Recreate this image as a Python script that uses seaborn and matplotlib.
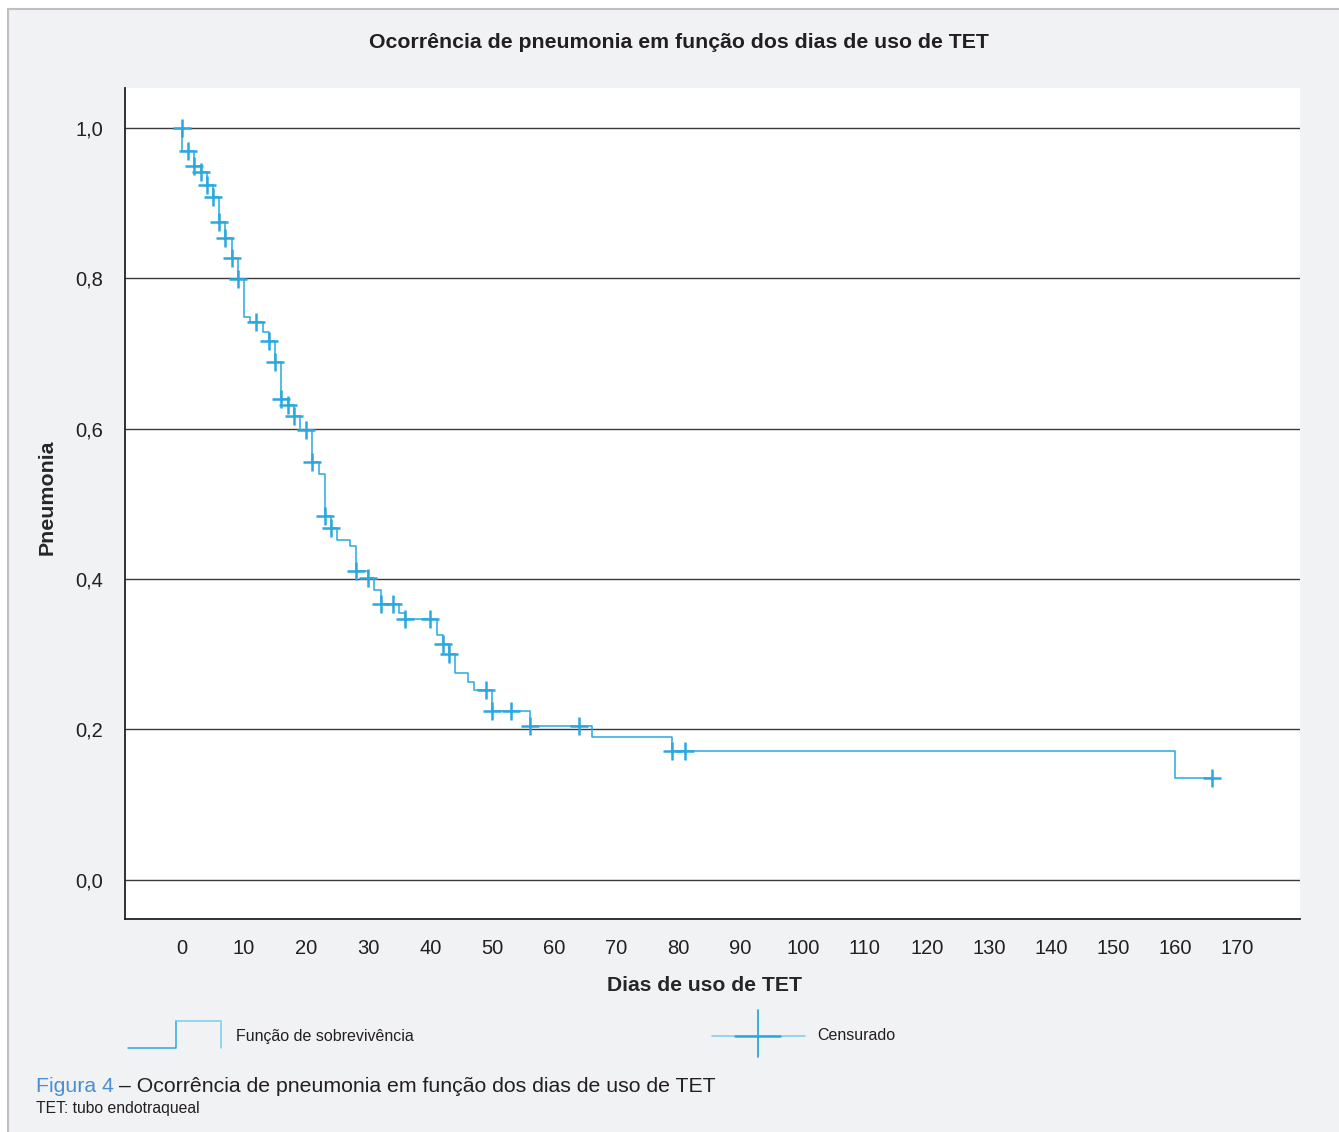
import matplotlib
matplotlib.use("Agg")
import matplotlib.pyplot as plt
import seaborn as sns
import pandas as pd
from matplotlib.lines import Line2D
from matplotlib.patches import Rectangle

# Kaplan-Meier steps (day of event, survival after it)
STEP_DAYS = [0, 2, 3, 4, 5, 6, 7, 8, 9, 10, 11, 13, 14, 15, 16, 17, 18, 19,
             21, 22, 23, 24, 25, 27, 28, 30, 31, 32, 35, 36, 41, 42, 43, 44,
             46, 47, 50, 56, 66, 79, 160]
STEP_SURV = [0.969, 0.949, 0.941, 0.924, 0.908, 0.875, 0.853, 0.827, 0.799,
             0.749, 0.742, 0.728, 0.716, 0.689, 0.640, 0.631, 0.617, 0.598,
             0.556, 0.540, 0.484, 0.468, 0.452, 0.444, 0.411, 0.402, 0.386,
             0.367, 0.355, 0.347, 0.325, 0.314, 0.301, 0.275, 0.263, 0.252,
             0.225, 0.204, 0.190, 0.171, 0.136]
LAST_DAY = 166

# censored observations
CENSOR_DAYS = [0, 1, 2, 3, 4, 5, 6, 7, 8, 9, 12, 14, 15, 16, 17, 18, 20, 21,
               23, 24, 28, 30, 32, 34, 36, 40, 42, 43, 49, 50, 53, 56, 64, 79,
               81, 166]
CENSOR_SURV = [1.0, 0.969, 0.949, 0.941, 0.924, 0.908, 0.875, 0.853, 0.827,
               0.799, 0.742, 0.716, 0.689, 0.640, 0.631, 0.617, 0.598, 0.556,
               0.484, 0.468, 0.411, 0.402, 0.367, 0.367, 0.347, 0.347, 0.314,
               0.301, 0.252, 0.225, 0.225, 0.204, 0.204, 0.171, 0.171, 0.136]

X_TICKS = list(range(0, 171, 10))
Y_TICKS = [0.0, 0.2, 0.4, 0.6, 0.8, 1.0]
Y_LABELS = ["0,0", "0,2", "0,4", "0,6", "0,8", "1,0"]

BLUE = "#2AA8E0"
LIGHT_BLUE = "#7CCBEE"
TEXT = "#231F20"
BG = "#F1F2F4"
W, H = 1339, 1132


def fx(x):
    return x / W


def fy(y):
    return 1 - y / H


sns.set_style("white")
plt.rcParams["font.family"] = ["Liberation Sans", "DejaVu Sans"]
plt.rcParams["text.color"] = TEXT

fig = plt.figure(figsize=(W / 100, H / 100), dpi=100)
fig.patch.set_facecolor("white")
# grey page with a border on the top and left only
fig.add_artist(Rectangle((fx(8), -0.1), 1.2, fy(9) + 0.1, transform=fig.transFigure,
                         facecolor=BG, edgecolor="#BEBEC3", lw=1.5, zorder=0))

ax = fig.add_axes([fx(125), fy(919), fx(1300) - fx(125), fy(88) - fy(919)])
ax.set_facecolor("white")

curve = pd.DataFrame({
    "dias": [0] + STEP_DAYS + [LAST_DAY],
    "sobrevivencia": [1.0] + STEP_SURV + [STEP_SURV[-1]],
})
censored = pd.DataFrame({"dias": CENSOR_DAYS, "sobrevivencia": CENSOR_SURV})

sns.lineplot(data=curve, x="dias", y="sobrevivencia", drawstyle="steps-post",
             estimator=None, sort=False, color=BLUE, lw=1.1, ax=ax)
sns.scatterplot(data=censored, x="dias", y="sobrevivencia", marker="+", s=160,
                color=BLUE, linewidth=1.8, ax=ax, zorder=3)

ax.set_xlim(-9.18, 180.1)
ax.set_ylim(-0.052, 1.053)
ax.set_xticks(X_TICKS)
ax.set_xticklabels([str(t) for t in X_TICKS])
ax.set_yticks(Y_TICKS)
ax.set_yticklabels(Y_LABELS)
ax.tick_params(axis="y", length=11.5, width=1, color="#707070", pad=4,
               labelsize=14.5, labelcolor=TEXT)
ax.tick_params(axis="x", length=0, pad=14.5, labelsize=14.5, labelcolor=TEXT)
ax.grid(axis="y", color="#3A3A3A", lw=1.0)
ax.grid(axis="x", visible=False)
for side in ["top", "right"]:
    ax.spines[side].set_visible(False)
for side in ["left", "bottom"]:
    ax.spines[side].set_color("#222222")
    ax.spines[side].set_linewidth(1.3)

ax.set_xlabel("Dias de uso de TET", fontsize=15.2, fontweight="bold")
ax.xaxis.set_label_coords(0.493, -0.068)
ax.set_ylabel("Pneumonia", fontsize=15.4, fontweight="bold")
ax.yaxis.set_label_coords(-0.058, 0.507)

fig.text(fx(678.5), fy(42), "Ocorrência de pneumonia em função dos dias de uso de TET",
         ha="center", va="center", fontsize=15.3, fontweight="bold")

# legend drawn below the plot, as in the original
fig.add_artist(Line2D([fx(128), fx(176), fx(176)], [fy(1048), fy(1048), fy(1021)],
                      transform=fig.transFigure, color=BLUE, lw=1.1))
fig.add_artist(Line2D([fx(176), fx(221), fx(221)], [fy(1021), fy(1021), fy(1048)],
                      transform=fig.transFigure, color=LIGHT_BLUE, lw=1.1))
fig.text(fx(236), fy(1036), "Função de sobrevivência", ha="left", va="center",
         fontsize=11.5)
fig.add_artist(Line2D([fx(712), fx(805)], [fy(1036), fy(1036)],
                      transform=fig.transFigure, color=LIGHT_BLUE, lw=1.1))
fig.add_artist(Line2D([fx(735), fx(780)], [fy(1036), fy(1036)],
                      transform=fig.transFigure, color=BLUE, lw=1.8))
fig.add_artist(Line2D([fx(758), fx(758)], [fy(1010), fy(1057)],
                      transform=fig.transFigure, color=BLUE, lw=1.3))
fig.text(fx(817), fy(1036), "Censurado", ha="left", va="center", fontsize=11.5)

# caption: blue figure number followed by the dark text
fig_num = fig.text(fx(36), fy(1086), "Figura 4", ha="left", va="center",
                   fontsize=15.3, color="#4A8FD6")
fig.canvas.draw()
num_end = fig_num.get_window_extent().x1 / W
fig.text(num_end + fx(5), fy(1086), "– Ocorrência de pneumonia em função dos dias de uso de TET",
         ha="left", va="center", fontsize=15.3)
fig.text(fx(36), fy(1109), "TET: tubo endotraqueal", ha="left", va="center",
         fontsize=11.3)

fig.savefig("out.png", dpi=100, facecolor=fig.get_facecolor())
